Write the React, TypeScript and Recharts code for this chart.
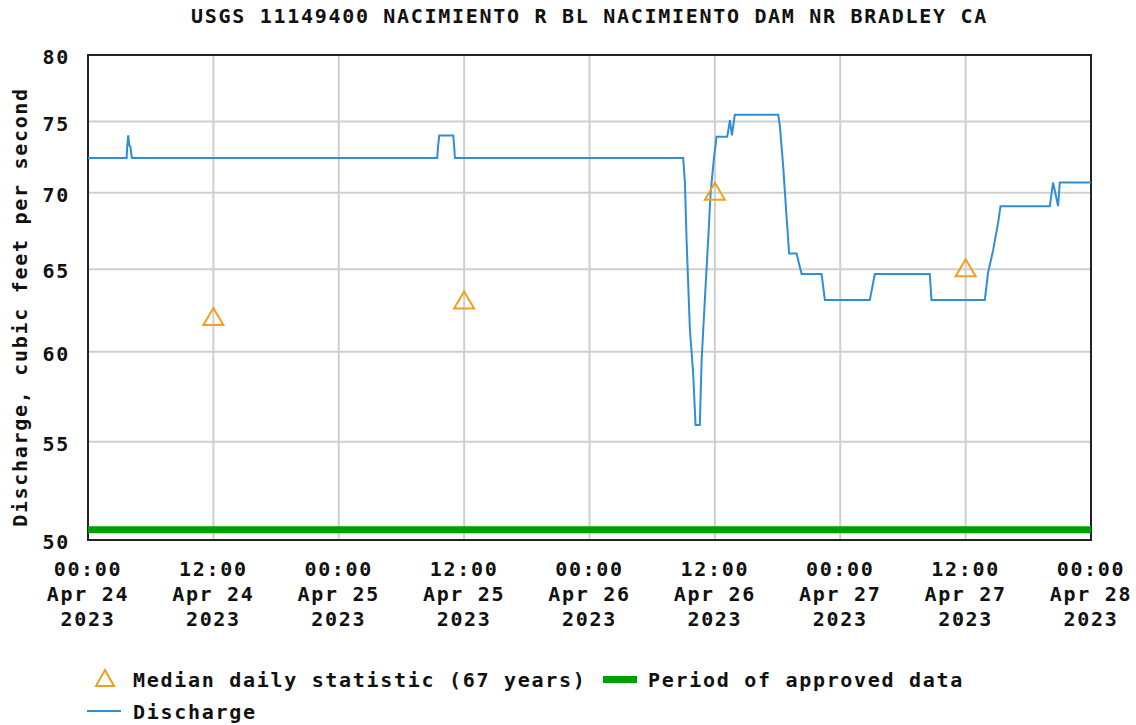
import { ComposedChart, Line, Scatter, XAxis, YAxis, CartesianGrid, ReferenceArea } from 'recharts';

// hours since 00:00 Apr 24 2023
const tickHours = [0, 12, 24, 36, 48, 60, 72, 84, 96];
const tickTimes = ['00:00', '12:00', '00:00', '12:00', '00:00', '12:00', '00:00', '12:00', '00:00'];
const tickDays = ['Apr 24', 'Apr 24', 'Apr 25', 'Apr 25', 'Apr 26', 'Apr 26', 'Apr 27', 'Apr 27', 'Apr 28'];
const tickYears = ['2023', '2023', '2023', '2023', '2023', '2023', '2023', '2023', '2023'];
const yTicks = [50, 55, 60, 65, 70, 75, 80];

const dischargeHours = [
  0, 3.7, 3.75, 3.85, 3.95, 4.05, 4.2,
  33.43, 33.5, 33.62, 34.96, 35.05, 35.12,
  56.97, 57.13, 57.29, 57.61, 57.92, 58.15, 58.56, 58.73, 59.04, 59.36, 59.59, 59.9,
  60.16, 61.18, 61.44, 61.63, 61.91, 66.06, 66.22, 66.54, 66.86, 67.11, 67.82, 68.3,
  70.21, 70.53, 74.83, 75.31, 80.57, 80.73, 85.84, 86.15, 86.63, 87.11, 87.34,
  92.06, 92.37, 92.85, 93.01, 96,
];
const dischargeValues = [
  72.4, 72.4, 73.2, 74.0, 73.3, 73.2, 72.4,
  72.4, 73.2, 74.0, 74.0, 73.2, 72.4,
  72.4, 70.7, 66.9, 61.3, 58.8, 55.9, 55.9, 59.5, 63.1, 66.9, 70.0, 72.3,
  73.9, 73.9, 75.1, 74.0, 75.5, 75.5, 74.7, 71.8, 68.4, 66.0, 66.0, 64.7,
  64.7, 63.1, 63.1, 64.7, 64.7, 63.1, 63.1, 64.8, 66.2, 68.0, 69.1,
  69.1, 70.7, 69.1, 70.7, 70.7,
];

const medianHours = [12, 36, 60, 84];
const medianValues = [62, 63, 70, 65];

const approvedHours = [0, 96];
const approvedValues = [50.5, 50.5];

const discharge = dischargeHours.map((h, i) => ({ h, v: dischargeValues[i] }));
const median = medianHours.map((h, i) => ({ h, v: medianValues[i] }));
const approved = approvedHours.map((h, i) => ({ h, v: approvedValues[i] }));

const FONT = '"DejaVu Sans Mono", monospace';
const BLUE = '#2f8fd6';
const ORANGE = '#f0a020';
const GREEN = '#00a000';

const txt = { fontFamily: FONT, fontWeight: 'bold' as const, fontSize: 20, letterSpacing: 1.7, fill: '#111' };

const XTick = (props: any) => {
  const { x, y, payload } = props;
  const i = tickHours.indexOf(payload.value);
  return (
    <g>
      <text x={x} y={y + 36} textAnchor="middle" style={txt}>{tickTimes[i]}</text>
      <text x={x} y={y + 61} textAnchor="middle" style={txt}>{tickDays[i]}</text>
      <text x={x} y={y + 86} textAnchor="middle" style={txt}>{tickYears[i]}</text>
    </g>
  );
};

const YTick = (props: any) => {
  const { x, y, payload } = props;
  return (
    <text x={x} y={y + 9} textAnchor="end" style={txt}>{payload.value}</text>
  );
};

const Triangle = (props: any) => {
  const { cx, cy } = props;
  if (cx == null || cy == null) return null;
  return (
    <polygon
      points={`${cx},${cy - 10} ${cx - 10},${cy + 7} ${cx + 10},${cy + 7}`}
      fill="none"
      stroke={ORANGE}
      strokeWidth={2}
    />
  );
};

const YLabel = () => (
  <text x={27} y={307} transform="rotate(-90, 27, 307)" textAnchor="middle" style={txt}>
    Discharge, cubic feet per second
  </text>
);

const App = () => {
  return (
    <div style={{ position: 'absolute', left: 0, top: 0, width: 1136, height: 725, background: '#fff' }}>
      <div
        style={{
          position: 'absolute', left: 88, top: 4, width: 1003, textAlign: 'center',
          fontFamily: FONT, fontWeight: 'bold', fontSize: 20, letterSpacing: 1.7, color: '#111',
        }}
      >
        USGS 11149400 NACIMIENTO R BL NACIMIENTO DAM NR BRADLEY CA
      </div>
      <ComposedChart width={1136} height={725} margin={{ top: 55, right: 45, left: 0, bottom: 0 }}>
        <CartesianGrid stroke="#cfcfcf" strokeWidth={2} />
        <XAxis
          dataKey="h"
          type="number"
          domain={[0, 96]}
          ticks={tickHours}
          height={185}
          tickSize={0}
          tickMargin={0}
          tickLine={false}
          axisLine={false}
          tick={<XTick />}
          allowDataOverflow
        />
        <YAxis
          type="number"
          scale="log"
          domain={[50, 80]}
          ticks={yTicks}
          width={88}
          tickSize={0}
          tickMargin={18}
          tickLine={false}
          axisLine={false}
          tick={<YTick />}
          label={<YLabel />}
          allowDataOverflow
        />
        <Line
          data={approved}
          dataKey="v"
          type="linear"
          stroke={GREEN}
          strokeWidth={7}
          dot={false}
          isAnimationActive={false}
        />
        <Line
          data={discharge}
          dataKey="v"
          type="linear"
          stroke={BLUE}
          strokeWidth={2}
          dot={false}
          isAnimationActive={false}
        />
        <Scatter data={median} dataKey="v" shape={<Triangle />} isAnimationActive={false} />
        <ReferenceArea x1={0} x2={96} y1={50} y2={80} fill="none" stroke="#222" strokeWidth={2} ifOverflow="visible" />
      </ComposedChart>
      <div style={{ position: 'absolute', left: 0, top: 0, width: 1136, height: 725, pointerEvents: 'none' }}>
        <svg width={1136} height={725} style={{ position: 'absolute', left: 0, top: 0 }}>
          <polygon points="105,670 96,686 114,686" fill="none" stroke={ORANGE} strokeWidth={2} />
          <text x={133} y={687} style={txt}>Median daily statistic (67 years)</text>
          <rect x={603} y={676} width={34} height={7} fill={GREEN} />
          <text x={648} y={687} style={txt}>Period of approved data</text>
          <line x1={87} y1={711} x2={121} y2={711} stroke={BLUE} strokeWidth={2} />
          <text x={133} y={719} style={txt}>Discharge</text>
        </svg>
      </div>
    </div>
  );
};

export default App;
